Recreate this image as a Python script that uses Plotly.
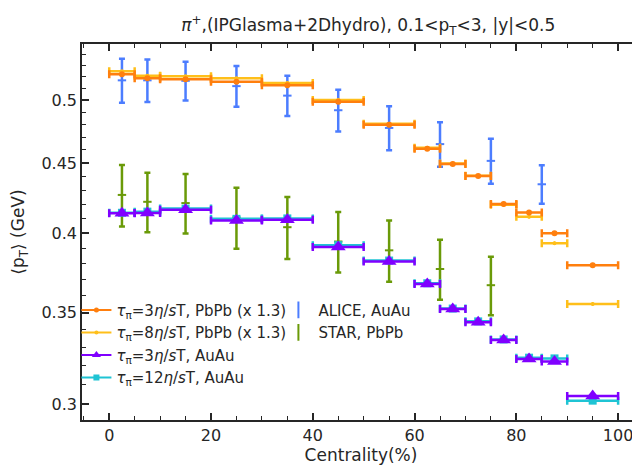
import plotly.graph_objects as go

# Centrality bins (%)
cent_lo = [0, 5, 10, 20, 30, 40, 50, 60, 65, 70, 75, 80, 85, 90]
cent_hi = [5, 10, 20, 30, 40, 50, 60, 65, 70, 75, 80, 85, 90, 100]

# Model <pT> (GeV)
pbpb_3 = [0.5224, 0.5188, 0.5180, 0.5158, 0.5128, 0.4988, 0.4798, 0.4608, 0.4493, 0.4403, 0.4201, 0.4141, 0.3999, 0.3790]
pbpb_8 = [0.5250, 0.5210, 0.5205, 0.5188, 0.5147, 0.5003, 0.4806, 0.4616, 0.4497, 0.4405, 0.4195, 0.4112, 0.3933, 0.3551]
auau_3 = [0.4136, 0.4138, 0.4160, 0.4086, 0.4090, 0.3907, 0.3814, 0.3672, 0.3522, 0.3444, 0.3343, 0.3238, 0.3224, 0.3043]
auau_12 = [0.4139, 0.4147, 0.4168, 0.4097, 0.4100, 0.3920, 0.3820, 0.3677, 0.3524, 0.3449, 0.3346, 0.3245, 0.3241, 0.3019]
pbpb_3_err = [0.0015] * 14
pbpb_8_err = [0.0012] * 14

# Data
alice_x = [2.5, 7.5, 15, 25, 35, 45, 55, 65, 75, 85]
alice_y = [0.5170, 0.5170, 0.5166, 0.5120, 0.5039, 0.4917, 0.4773, 0.4645, 0.4516, 0.4342]
alice_err = [0.0190, 0.0185, 0.0168, 0.0175, 0.0170, 0.0173, 0.0176, 0.0174, 0.0170, 0.0140]
star_x = [2.5, 7.5, 15, 25, 35, 45, 55, 65, 75]
star_y = [0.4265, 0.4216, 0.4207, 0.4106, 0.4040, 0.3944, 0.3886, 0.3766, 0.3665]
star_err = [0.0220, 0.0210, 0.0210, 0.0210, 0.0210, 0.0200, 0.0200, 0.0190, 0.0180]

x_ticks = [0, 20, 40, 60, 80, 100]
y_ticks = [0.3, 0.35, 0.4, 0.45, 0.5]
y_ticktext = ["0.3", "0.35", "0.4", "0.45", "0.5"]
y_minor = [round(0.29 + 0.01 * i, 2) for i in range(26)]

centers = [(a + b) / 2 for a, b in zip(cent_lo, cent_hi)]
halfw = [(b - a) / 2 for a, b in zip(cent_lo, cent_hi)]

C_OR = "#ff7f0e"
C_YE = "#ffbf1a"
C_PU = "#8000ff"
C_CY = "#1fc4d4"
C_BL = "#4c7dff"
C_GR = "#6a9a08"

FONT = "DejaVu Sans"
TXT = "#262626"

fig = go.Figure()

# Experimental data
fig.add_trace(go.Scatter(
    x=alice_x, y=alice_y, mode="markers", showlegend=False,
    marker=dict(symbol="line-ew", size=6, color=C_BL, line=dict(color=C_BL, width=2)),
    error_y=dict(type="data", array=alice_err, color=C_BL, thickness=2.5, width=3)))
fig.add_trace(go.Scatter(
    x=star_x, y=star_y, mode="markers", showlegend=False,
    marker=dict(symbol="line-ew", size=6, color=C_GR, line=dict(color=C_GR, width=2)),
    error_y=dict(type="data", array=star_err, color=C_GR, thickness=2.5, width=3)))

def model(y, err, color, symbol, size):
    d = dict(x=centers, y=y, mode="markers", showlegend=False,
             marker=dict(symbol=symbol, size=size, color=color),
             error_x=dict(type="data", array=halfw, color=color, thickness=2.5, width=4))
    if err is not None:
        d["error_y"] = dict(type="data", array=err, color=color, thickness=1.5, width=0)
    return go.Scatter(**d)

fig.add_trace(model(pbpb_8, pbpb_8_err, C_YE, "circle", 4))
fig.add_trace(model(pbpb_3, pbpb_3_err, C_OR, "circle", 6))
fig.add_trace(model(auau_12, None, C_CY, "square", 8))
fig.add_trace(model(auau_3, None, C_PU, "triangle-up", 13))

# Legend entries
tau = "<i>τ</i><sub>π</sub>"
eta = "<i>η</i>/<i>s</i>T"
leg1 = [
    (f"{tau}=3{eta}, PbPb (x 1.3)", C_OR, "circle", 5),
    (f"{tau}=8{eta}, PbPb (x 1.3)", C_YE, "circle", 4),
    (f"{tau}=3{eta}, AuAu", C_PU, "triangle-up", 8),
    (f"{tau}=12{eta}, AuAu", C_CY, "square", 6),
]
for name, c, sym, sz in leg1:
    fig.add_trace(go.Scatter(x=[None], y=[None], mode="lines+markers", name=name,
                             line=dict(color=c, width=2), marker=dict(symbol=sym, size=sz, color=c),
                             legend="legend"))
for name, c in [("ALICE, AuAu", C_BL), ("STAR, PbPb", C_GR)]:
    fig.add_trace(go.Scatter(x=[None], y=[None], mode="markers", name=name,
                             marker=dict(symbol="line-ns", size=12, color=c, line=dict(color=c, width=2)),
                             legend="legend2"))

axis_common = dict(
    showline=True, linecolor=TXT, linewidth=1.5, mirror="allticks",
    ticks="inside", tickcolor=TXT, tickwidth=1.5, ticklen=7,
    showgrid=False, zeroline=False, automargin=False,
    tickfont=dict(family=FONT, size=16, color=TXT),
)

# The page body adds an 8px offset, so the figure is sized/positioned to compensate.
fig.update_layout(
    width=632, height=458,
    margin=dict(l=74, r=0, t=36, b=46),
    paper_bgcolor="white", plot_bgcolor="white",
    font=dict(family=FONT, color=TXT),
    title=dict(text="<i>π</i><sup>+</sup>,(IPGlasma+2Dhydro), 0.1&lt;p<sub>T</sub>&lt;3, |y|&lt;0.5",
               x=0.513, xref="paper", xanchor="center", y=0.962, yanchor="middle", automargin=False,
               font=dict(family=FONT, size=17, color=TXT)),
    xaxis=dict(range=[-5.35, 104.3], tickvals=x_ticks,
               minor=dict(dtick=5, tick0=0, ticks="inside", ticklen=4, tickcolor=TXT, tickwidth=1.2),
               title=dict(text="Centrality(%)", font=dict(family=FONT, size=17, color=TXT), standoff=2),
               **axis_common),
    yaxis=dict(type="log", range=[-0.53425, -0.2600], tickvals=y_ticks, ticktext=y_ticktext,
               minor=dict(tickmode="array", tickvals=y_minor, ticks="inside", ticklen=4,
                          tickcolor=TXT, tickwidth=1.2),
               title=dict(text="⟨p<sub>T</sub>⟩ (GeV)", font=dict(family=FONT, size=17, color=TXT), standoff=12),
               **axis_common),
    legend=dict(x=-0.01, y=0.336, xanchor="left", yanchor="top", bgcolor="rgba(0,0,0,0)",
                font=dict(family=FONT, size=15, color=TXT), tracegroupgap=0, itemwidth=30),
    legend2=dict(x=0.352, y=0.336, xanchor="left", yanchor="top", bgcolor="rgba(0,0,0,0)",
                 font=dict(family=FONT, size=15, color=TXT), itemwidth=30),
)

fig.write_html("out.html")
